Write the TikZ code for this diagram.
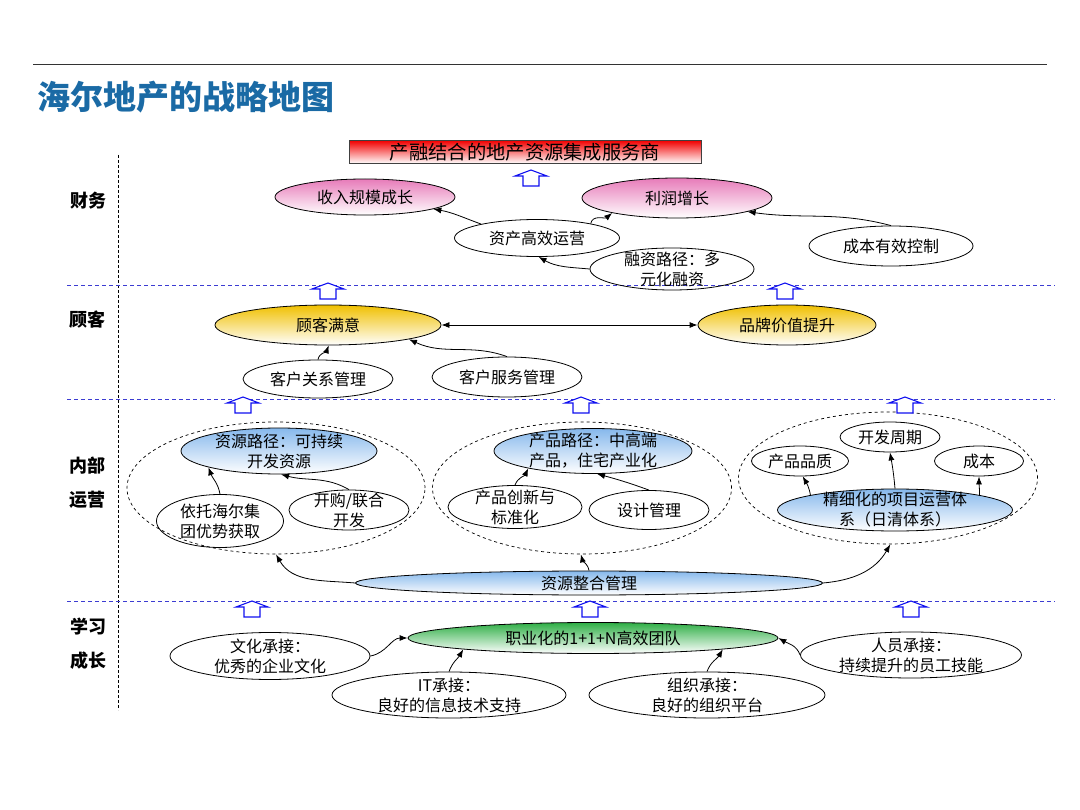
\documentclass[tikz,border=0pt]{standalone}
\usepackage{fontspec}
\setmainfont{Noto Sans CJK SC}
\usepackage{tikz}
\usetikzlibrary{shapes.geometric,arrows.meta}
\definecolor{titleblue}{HTML}{1A6AA5}
\definecolor{lineblue}{HTML}{3C3CD2}
\definecolor{arrblue}{HTML}{1010F0}
\definecolor{pinktop}{HTML}{E77BB9}
\definecolor{goldtop}{HTML}{F0C000}
\definecolor{skytop}{HTML}{86B8EC}
\definecolor{greentop}{HTML}{2EAE45}
\definecolor{redtop}{HTML}{F20000}

\begin{document}
\begin{tikzpicture}[x=1pt,y=-1pt,every node/.style={font=\fontsize{16}{20}\selectfont},
    goal/.style={ellipse,draw,line width=0.8pt,inner sep=-40pt,align=center},
    group/.style={ellipse,draw,dashed,line width=0.7pt,inner sep=-40pt},
    pinkfill/.style={top color=pinktop,bottom color=white},
    goldfill/.style={top color=goldtop,bottom color=white},
    skyfill/.style={top color=skytop,bottom color=white},
    greenfill/.style={top color=greentop,bottom color=white},
    rowlabel/.style={font=\fontsize{18}{34}\selectfont\bfseries,align=center},
    link/.style={-{Latex[length=8pt,width=6pt]},line width=0.8pt},
    layer/.style={lineblue,dashed,dash pattern=on 4pt off 3pt,line width=1pt},
    hollow/.pic={\draw[arrblue,fill=white,line width=1.1pt] (-8,0) -- (-8,-10) -- (-16,-10) -- (0,-16) -- (16,-10) -- (8,-10) -- (8,0) -- cycle;}]
  \useasboundingbox (0,0) rectangle (1080,810);
  \draw[black!80,line width=1pt] (33,65) -- (1047,65);
  \node[anchor=west,text=titleblue,font=\fontsize{33}{35}\selectfont\bfseries] (title) at (34,97) {海尔地产的战略地图};

  \draw[dashed,dash pattern=on 3pt off 2pt,line width=0.8pt] (118,155) -- (118,710);
  \draw[layer] (67,286) -- (1055,286);
  \draw[layer] (67,400) -- (1055,400);
  \draw[layer] (67,601) -- (1055,601);

  \node[rowlabel] (lfin) at (88,201) {财务};
  \node[rowlabel] (lcus) at (87,320) {顾客};
  \node[rowlabel] (lops) at (87,483) {内部\\运营};
  \node[rowlabel] (llrn) at (88,644) {学习\\成长};

  % finance
  \node[draw=black!75,line width=0.8pt,top color=redtop,bottom color=white,minimum width=352,minimum height=23,inner sep=0pt,font=\fontsize{19.3}{20}\selectfont] (vision) at (525,152) {产融结合的地产资源集成服务商};
  \node[goal,pinkfill,minimum width=180,minimum height=36] (income) at (365,197) {收入规模成长};
  \node[goal,pinkfill,minimum width=190,minimum height=40] (profit) at (677,198) {利润增长};
  \node[goal,minimum width=165,minimum height=37] (assets) at (537,238) {资产高效运营};
  \node[goal,minimum width=164,minimum height=42] (funding) at (672,269) {融资路径：多\\元化融资};
  \node[goal,minimum width=164,minimum height=40] (cost) at (891,246) {成本有效控制};

  \draw[link] (assets.166) to[out=160,in=-10] (income.-10);
  \draw[link] (assets.15) to[out=80,in=-140] (profit.-167);
  \draw[link] (funding.west) to[out=175,in=-30] (assets.-85);
  \draw[link] (cost.north) to[out=165,in=-8] (profit.-11);

  % customers
  \node[goal,goldfill,minimum width=226,minimum height=40] (satisfy) at (328,325) {顾客满意};
  \node[goal,goldfill,minimum width=178,minimum height=40] (brand) at (787,325) {品牌价值提升};
  \node[goal,minimum width=150,minimum height=38] (crm) at (318,379) {客户关系管理};
  \node[goal,minimum width=150,minimum height=40] (service) at (507,377) {客户服务管理};

  \draw[{Latex[length=8pt,width=6pt]}-{Latex[length=8pt,width=6pt]},line width=0.8pt] (satisfy.east) -- (brand.west);
  \draw[link] (crm.north) to[out=80,in=-110] (satisfy.-88);
  \draw[link] (service.north) to[out=160,in=-25] (satisfy.-10);

  % internal operations
  \node[group,minimum width=298,minimum height=132] (opsA) at (276,488) {};
  \node[group,minimum width=299,minimum height=132] (opsB) at (582,488) {};
  \node[group,minimum width=299,minimum height=132] (opsC) at (888,478) {};
  \node[goal,skyfill,minimum width=196,minimum height=46] (respath) at (279,451) {资源路径：可持续\\开发资源};
  \node[goal,minimum width=127,minimum height=53] (haier) at (220,521) {依托海尔集\\团优势获取};
  \node[goal,minimum width=120,minimum height=40] (merge) at (349,510) {开购/联合\\开发};
  \node[goal,skyfill,minimum width=198,minimum height=45] (prodpath) at (593,451) {产品路径：中高端\\产品，住宅产业化};
  \node[goal,minimum width=134,minimum height=43] (innov) at (515,507) {产品创新与\\标准化};
  \node[goal,minimum width=120,minimum height=39] (design) at (649,510) {设计管理};
  \node[goal,minimum width=100,minimum height=30] (cycle) at (890,437) {开发周期};
  \node[goal,minimum width=97,minimum height=30] (quality) at (800,461) {产品品质};
  \node[goal,minimum width=89,minimum height=30] (costb) at (979,461) {成本};
  \node[goal,skyfill,minimum width=235,minimum height=42] (refine) at (895,510) {精细化的项目运营体\\系（日清体系）};
  \node[goal,skyfill,minimum width=467,minimum height=24] (integr) at (589,583) {资源整合管理};

  \draw[link] (haier.north) to[out=100,in=-70] (respath.-167);
  \draw[link] (merge.north) to[out=150,in=-15] (respath.-85);
  \draw[link] (innov.north) to[out=70,in=-115] (prodpath.-165);
  \draw[link] (design.north) to[out=160,in=-15] (prodpath.-80);
  \draw[link] (refine.170) to[out=100,in=-60] (quality.-80);
  \draw[link] (refine.north) to[out=95,in=-80] (cycle.south);
  \draw[link] (refine.10) to[out=90,in=-90] (costb.south);
  \draw[link] (integr.west) to[out=175,in=-60] (opsA.south);
  \draw[link] (integr.north) to[out=100,in=-75] (opsB.-91);
  \draw[link] (integr.east) to[out=5,in=-120] (opsC.-88);

  % learning and growth
  \node[goal,greenfill,minimum width=370,minimum height=31] (team) at (593,638) {职业化的1+1+N高效团队};
  \node[goal,minimum width=200,minimum height=47] (culture) at (270,656) {文化承接：\\优秀的企业文化};
  \node[goal,minimum width=234,minimum height=46] (itsup) at (449,695) {IT承接：\\良好的信息技术支持};
  \node[goal,minimum width=236,minimum height=46] (orgsup) at (707,695) {组织承接：\\良好的组织平台};
  \node[goal,minimum width=221,minimum height=46] (staff) at (911,655) {人员承接：\\持续提升的员工技能};

  \draw[link] (culture.east) to[out=10,in=180] (team.west);
  \draw[link] (itsup.north) to[out=70,in=-120] (team.-175);
  \draw[link] (orgsup.north) to[out=70,in=-120] (team.-5);
  \draw[link] (staff.west) to[out=110,in=-30] (team.east);

  \pic at (531,186) {hollow};
  \pic at (328,299) {hollow};
  \pic at (785,299) {hollow};
  \pic at (243,413) {hollow};
  \pic at (581,413) {hollow};
  \pic at (905,413) {hollow};
  \pic at (252,617) {hollow};
  \pic at (590,617) {hollow};
  \pic at (911,617) {hollow};
\end{tikzpicture}
\end{document}
